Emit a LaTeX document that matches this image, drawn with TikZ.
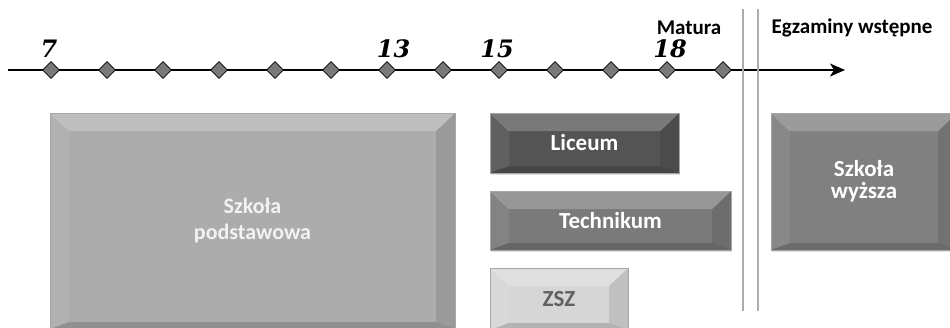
\documentclass[tikz,border=0pt]{standalone}
\usepackage{fontspec}
\newfontfamily\calib{Carlito}
\newfontfamily\agefont{DejaVu Serif}
\usetikzlibrary{arrows.meta}
\usetikzlibrary{shapes.geometric}
\usetikzlibrary{shadows}

\tikzset{
  school/.style={rectangle, fill=#1, draw=black!35, line width=.4pt, inner sep=0pt,
    align=center, text=white, font=\calib\bfseries\fontsize{23}{22}\selectfont,
    drop shadow={opacity=.25, shadow xshift=1pt, shadow yshift=-2pt},
    path picture={
      \coordinate (nw) at (path picture bounding box.north west);
      \coordinate (ne) at (path picture bounding box.north east);
      \coordinate (sw) at (path picture bounding box.south west);
      \coordinate (se) at (path picture bounding box.south east);
      \coordinate (inw) at ([shift={(19,18)}]nw);
      \coordinate (ine) at ([shift={(-19,18)}]ne);
      \coordinate (isw) at ([shift={(19,-7)}]sw);
      \coordinate (ise) at ([shift={(-19,-7)}]se);
      \fill[white,opacity=.22] (nw) -- (ne) -- (ine) -- (inw) -- cycle;
      \fill[white,opacity=.07] (nw) -- (inw) -- (isw) -- (sw) -- cycle;
      \fill[black,opacity=.10] (ne) -- (ine) -- (ise) -- (se) -- cycle;
      \fill[black,opacity=.16] (sw) -- (se) -- (ise) -- (isw) -- cycle;
      \draw[white,opacity=.15,line width=.4pt] (nw) -- (inw) (ne) -- (ine);
    }},
  tick/.style={diamond, draw, line width=.8pt, fill=gray!95!black, inner sep=0pt, minimum width=17pt, minimum height=17pt},
  age/.style={inner sep=0pt, font=\agefont\bfseries\itshape\fontsize{24}{26}\selectfont},
  exam/.style={inner sep=0pt, font=\calib\bfseries\fontsize{21}{24}\selectfont},
  border/.style={gray!65, line width=1.6pt}
}

\begin{document}
\begin{tikzpicture}[x=1pt,y=-1pt]
\useasboundingbox (0,0) rectangle (950,327);
\coordinate (axstart) at (8,70);
\coordinate (axend) at (845,70);
\draw[line width=1.6pt, -{Stealth[length=15pt,width=13pt,inset=4pt]}] (axstart) -- (axend);
\foreach \i in {0,...,12}
  \node[tick] (d\i) at (51+56*\i,70) {};
\node[age] (a7) at (49,49) {7};
\node[age] (a13) at (393.5,49) {13};
\node[age] (a15) at (497,49) {15};
\node[age] (a18) at (670,49) {18};

\coordinate (v1t) at (743,9);
\coordinate (v1b) at (743,311);
\coordinate (v2t) at (758,9);
\coordinate (v2b) at (758,311);
\draw[border] (v1t) -- (v1b);
\draw[border] (v2t) -- (v2b);
\node[exam] (matura) at (689,28) {Matura};
\node[exam] (egz) at (852,28) {Egzaminy wstępne};

\node[school=gray!65, minimum width=405pt, minimum height=216pt, text=white!95!black,
  font=\calib\bfseries\fontsize{22}{26}\selectfont] (podst) at (252.5,221) {Szkoła\\podstawowa};
\node[school=black!67, minimum width=189pt, minimum height=60pt] (lic) at (584.5,143) {Liceum};
\node[school=black!52, minimum width=241pt, minimum height=59pt] (tech) at (610.5,220.5) {Technikum};
\node[school=black!16, minimum width=138pt, minimum height=62pt, text=black!62] (zsz) at (559,299) {ZSZ};
\node[school=black!50, minimum width=186pt, minimum height=137pt] (wyzsza) at (864,181.5) {Szkoła\\wyższa};
\end{tikzpicture}
\end{document}
